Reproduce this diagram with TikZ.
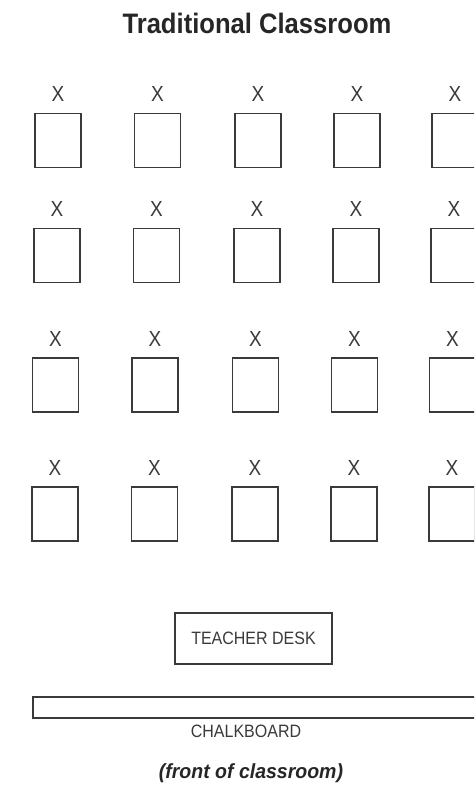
\documentclass[tikz,border=0pt]{standalone}
\usepackage{fontspec}
\setmainfont{Liberation Sans}
\usepackage{tikz}
\usetikzlibrary{positioning}
\definecolor{ink}{HTML}{3A3A3A}
\tikzset{
	desk/.style={draw=ink, line width=1.5pt, minimum width=46pt, minimum height=54pt, inner sep=0pt},
	seat/.style={text=ink, font=\fontsize{19}{19}\selectfont, yscale=1.15, inner sep=0pt},
	label/.style={text=ink, font=\fontsize{16}{16}\selectfont, yscale=1.12, inner sep=0pt}
}

\begin{document}
\begin{tikzpicture}[x=1pt,y=-1pt]
			\useasboundingbox (0,0) rectangle (474,786);
			\clip (0,0) rectangle (474,786);
			\node[text=black!85, font=\bfseries\fontsize{25.6}{26}\selectfont, yscale=1.1] (title) at (257,23) {Traditional Classroom};
			% rows of desks: row / centre y / x shift
			\foreach \r/\y/\s in {1/140.5/2, 2/255.5/1, 3/385/-0.5, 4/514/-1}
			\foreach \c/\x in {1/56, 2/155.5, 3/256, 4/355, 5/453}
			{
				\node[desk] (d-\r-\c) at (\x+\s,\y) {};
				\node[seat, above=11pt of d-\r-\c] (x-\r-\c) {X};
			}
			\node[desk, minimum width=157pt, minimum height=51pt] (teacher) at (253.5,638.5) {};
			\node[label] at (teacher) {TEACHER DESK};
			\draw[draw=ink, line width=1.5pt] (33,697) rectangle (480,718);
			\node[label] (board) at (246,731) {CHALKBOARD};
			\node[text=black!85, font=\bfseries\itshape\fontsize{19.5}{20}\selectfont, yscale=1.05] (front) at (251,773) {(front of classroom)};
		\end{tikzpicture}
\end{document}
